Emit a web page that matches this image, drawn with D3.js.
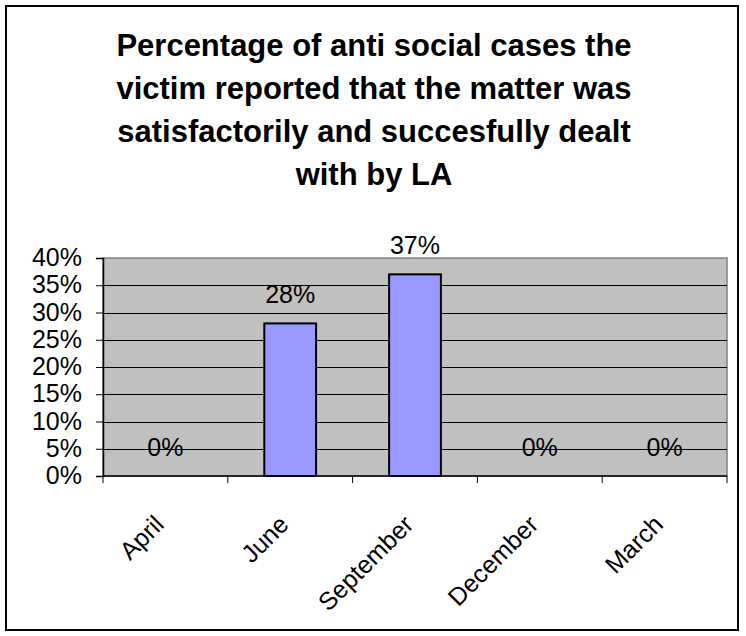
<!DOCTYPE html>
<html>
<head>
<meta charset="utf-8">
<script src="https://cdn.jsdelivr.net/npm/d3@7"></script>
<style>
  html, body { margin: 0; padding: 0; background: #ffffff; }
  svg { display: block; }
  text { font-family: "Liberation Sans", Arial, sans-serif; fill: #000; }
</style>
</head>
<body>
<svg id="chart" width="746" height="636"></svg>
<script>
const titleLines = [
  "Percentage of anti social cases the",
  "victim reported that the matter was",
  "satisfactorily and succesfully dealt",
  "with by LA"
];
const categories = ["April", "June", "September", "December", "March"];
const values = [0, 0.28, 0.37, 0, 0];
const valueLabels = ["0%", "28%", "37%", "0%", "0%"];
const yTicks = [0, 0.05, 0.10, 0.15, 0.20, 0.25, 0.30, 0.35, 0.40];

const svg = d3.select("#chart");
const W = 746, H = 636;
const plot = { left: 103, right: 727, top: 258, bottom: 476 };

// outer border
svg.append("rect")
  .attr("x", 6).attr("y", 6)
  .attr("width", 732).attr("height", 624)
  .attr("fill", "#fff").attr("stroke", "#000").attr("stroke-width", 2);

// title
svg.append("g").selectAll("text").data(titleLines).join("text")
  .attr("x", 374)
  .attr("y", (d, i) => 56 + i * 43)
  .attr("text-anchor", "middle")
  .attr("font-size", 31)
  .attr("font-weight", "bold")
  .text(d => d);

const x = d3.scaleBand().domain(categories).range([plot.left, plot.right]).padding(0);
const y = d3.scaleLinear().domain([0, 0.40]).range([plot.bottom, plot.top]);

// plot area
svg.append("rect")
  .attr("x", plot.left).attr("y", plot.top)
  .attr("width", plot.right - plot.left).attr("height", plot.bottom - plot.top)
  .attr("fill", "#C0C0C0").attr("stroke", "#808080").attr("stroke-width", 1.5);

// gridlines
svg.append("g").selectAll("line").data(yTicks.filter(t => t > 0 && t < 0.40)).join("line")
  .attr("x1", plot.left).attr("x2", plot.right)
  .attr("y1", d => Math.round(y(d)) + 0.5).attr("y2", d => Math.round(y(d)) + 0.5)
  .attr("stroke", "#000").attr("stroke-width", 1);

// bars
const barW = x.bandwidth() * 0.415;
svg.append("g").selectAll("rect").data(values).join("rect")
  .attr("x", (d, i) => x(categories[i]) + (x.bandwidth() - barW) / 2)
  .attr("y", d => y(d))
  .attr("width", barW)
  .attr("height", d => y(0) - y(d))
  .attr("fill", d => d > 0 ? "#9999FF" : "none")
  .attr("stroke", d => d > 0 ? "#000" : "none")
  .attr("stroke-width", 2);

// data labels
svg.append("g").selectAll("text").data(values).join("text")
  .attr("x", (d, i) => x(categories[i]) + x.bandwidth() / 2)
  .attr("y", d => y(d) - 20)
  .attr("text-anchor", "middle")
  .attr("font-size", 25)
  .text((d, i) => valueLabels[i]);

// y axis
const yAxis = d3.axisLeft(y).tickValues(yTicks).tickFormat(d3.format(".0%"))
  .tickSize(7).tickPadding(14);
const gy = svg.append("g").attr("transform", `translate(${plot.left},0)`).call(yAxis);
gy.select(".domain").attr("stroke", "#000").attr("stroke-width", 1.5);
gy.selectAll(".tick line").attr("stroke", "#000").attr("stroke-width", 1);
gy.selectAll(".tick text").attr("font-size", 25).attr("font-family", "Liberation Sans, Arial, sans-serif").attr("fill", "#000").attr("dy", "0.3em");

// x axis
const xTickPos = d3.range(categories.length + 1).map(i => plot.left + i * x.step());
const gx = svg.append("g");
gx.append("line")
  .attr("x1", plot.left).attr("x2", plot.right)
  .attr("y1", plot.bottom).attr("y2", plot.bottom)
  .attr("stroke", "#000").attr("stroke-width", 1.5);
gx.selectAll("line.tk").data(xTickPos).join("line").attr("class", "tk")
  .attr("x1", d => d).attr("x2", d => d)
  .attr("y1", plot.bottom).attr("y2", plot.bottom + 7)
  .attr("stroke", "#000").attr("stroke-width", 1);
gx.selectAll("text").data(categories).join("text")
  .attr("transform", d => `translate(${x(d) + x.bandwidth() / 2},526) rotate(-45)`)
  .attr("text-anchor", "end")
  .attr("font-size", 25)
  .text(d => d);
</script>
</body>
</html>
